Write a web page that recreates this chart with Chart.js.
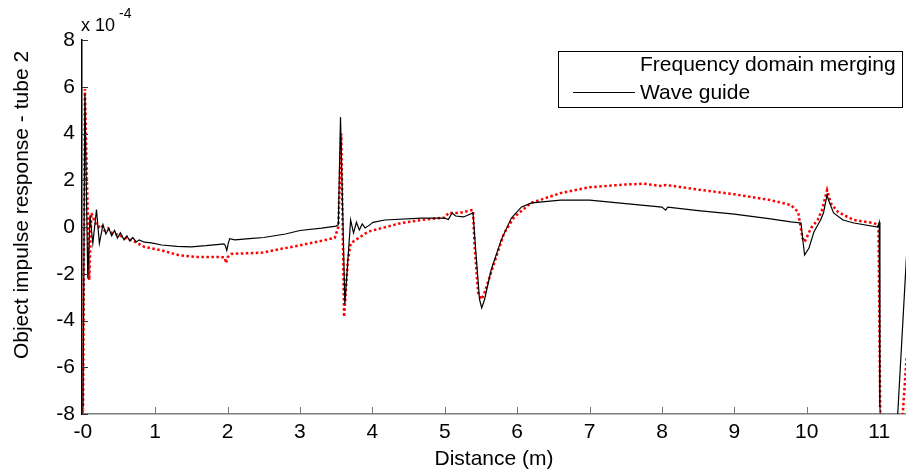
<!DOCTYPE html>
<html>
<head>
<meta charset="utf-8">
<script src="https://cdn.jsdelivr.net/npm/chart.js@4.4.0/dist/chart.umd.min.js"></script>
<style>
  body { margin: 0; background: #fff; }
  canvas { display: block; }
</style>
</head>
<body>
<canvas id="impulseChart" width="906" height="473"></canvas>
<script>
// data (values in units of 1e-4)
const waveX = [0.00, 0.03, 0.07, 0.10, 0.14, 0.19, 0.23, 0.28, 0.32, 0.36, 0.40, 0.44, 0.48, 0.52, 0.57, 0.61, 0.65, 0.69, 0.74, 0.78, 0.85, 0.95, 1.09, 1.30, 1.50, 1.70, 1.85, 1.95, 1.97, 1.99, 2.01, 2.03, 2.10, 2.30, 2.50, 2.80, 3.00, 3.30, 3.50, 3.53, 3.56, 3.62, 3.70, 3.74, 3.78, 3.82, 3.86, 3.90, 3.96, 4.01, 4.17, 4.68, 5.00, 5.05, 5.10, 5.15, 5.26, 5.39, 5.43, 5.48, 5.51, 5.55, 5.64, 5.78, 5.92, 6.06, 6.20, 6.60, 7.00, 7.50, 8.00, 8.05, 8.08, 8.50, 9.00, 9.50, 9.78, 9.92, 9.94, 9.97, 10.03, 10.10, 10.19, 10.23, 10.28, 10.30, 10.37, 10.50, 10.65, 10.98, 11.00, 11.01, 11.22, 11.38, 11.45];
const waveY = [-10, 5.7, -2.2, 0.5, -0.7, 0.75, -0.7, 0.1, -0.3, -0.05, -0.38, -0.15, -0.47, -0.25, -0.55, -0.38, -0.6, -0.45, -0.64, -0.55, -0.65, -0.68, -0.77, -0.83, -0.85, -0.8, -0.75, -0.72, -0.8, -1.0, -0.7, -0.5, -0.55, -0.5, -0.45, -0.3, -0.15, -0.05, 0.04, 0.1, 4.7, -3.3, 0.3, -0.26, 0.2, -0.13, 0.13, -0.04, 0.08, 0.2, 0.3, 0.38, 0.38, 0.32, 0.6, 0.47, 0.43, 0.6, -1.1, -3.1, -3.46, -3.1, -1.84, -0.55, 0.38, 0.86, 1.03, 1.15, 1.15, 1.0, 0.85, 0.72, 0.85, 0.7, 0.55, 0.35, 0.22, 0.17, -0.43, -1.2, -0.9, -0.2, 0.3, 0.6, 1.37, 1.15, 0.6, 0.3, 0.17, 0.0, 0.2, -10, -10, -1.07, 3];

const freqX = [0.00, 0.03, 0.09, 0.12, 0.17, 0.22, 0.26, 0.30, 0.35, 0.40, 0.50, 0.61, 0.70, 0.85, 1.09, 1.32, 1.55, 1.87, 1.96, 1.98, 2.00, 2.05, 2.47, 3.02, 3.48, 3.53, 3.57, 3.61, 3.66, 3.70, 3.94, 4.40, 4.68, 5.00, 5.05, 5.20, 5.39, 5.41, 5.46, 5.51, 5.55, 5.71, 5.82, 5.96, 6.19, 6.60, 7.00, 7.50, 7.75, 8.00, 8.05, 8.50, 9.00, 9.50, 9.78, 9.88, 9.94, 9.97, 10.06, 10.15, 10.21, 10.28, 10.33, 10.43, 10.65, 10.92, 10.99, 11.02, 11.28, 11.38, 11.45];
const freqY = [-10, 5.9, -2.27, 0.6, 0.2, 0.0, 0.1, -0.15, -0.05, -0.25, -0.35, -0.5, -0.6, -0.85, -1.0, -1.2, -1.28, -1.28, -1.3, -1.55, -1.3, -1.15, -1.1, -0.77, -0.47, 0.0, 4.0, -3.85, -1.5, -0.7, -0.2, 0.17, 0.3, 0.4, 0.6, 0.6, 0.73, -0.7, -2.8, -3.1, -2.8, -1.28, -0.26, 0.43, 1.03, 1.45, 1.7, 1.82, 1.85, 1.75, 1.8, 1.6, 1.4, 1.15, 0.94, 0.64, -0.47, -0.64, -0.04, 0.3, 0.73, 1.58, 1.03, 0.64, 0.3, 0.17, 0.09, -10, -10, -5.5, -3];

const seriesNames = ["Frequency domain merging", "Wave guide"];
const xTickValues = [0, 1, 2, 3, 4, 5, 6, 7, 8, 9, 10, 11];
const xTickLabels = ["-0", "1", "2", "3", "4", "5", "6", "7", "8", "9", "10", "11"];
const yTickValues = [-8, -6, -4, -2, 0, 2, 4, 6, 8];

const FONT = "'Liberation Sans', Arial, sans-serif";

function toPoints(xs, ys) {
  return xs.map((x, i) => ({ x: x, y: ys[i] }));
}

// ticks pointing into the plot, titles and legend box (matlab look)
const matlabDecor = {
  id: "matlabDecor",
  afterDraw(chart) {
    const ctx = chart.ctx;
    const area = chart.chartArea;
    const xs = chart.scales.x;
    const ys = chart.scales.y;

    ctx.save();
    ctx.lineWidth = 1;
    ctx.strokeStyle = "#333";
    ctx.beginPath();
    yTickValues.forEach(v => {
      const py = Math.round(ys.getPixelForValue(v)) + 0.5;
      ctx.moveTo(area.left, py);
      ctx.lineTo(area.left + 6, py);
    });
    ctx.stroke();
    ctx.strokeStyle = "#777";
    ctx.beginPath();
    xTickValues.forEach(v => {
      const px = Math.round(xs.getPixelForValue(v)) + 0.5;
      ctx.moveTo(px, area.bottom);
      ctx.lineTo(px, area.bottom - 7);
    });
    ctx.stroke();

    // y title
    ctx.fillStyle = "#000";
    ctx.font = "21px " + FONT;
    ctx.textAlign = "center";
    ctx.textBaseline = "middle";
    ctx.save();
    ctx.translate(22, 205);
    ctx.rotate(-Math.PI / 2);
    ctx.fillText("Object impulse response - tube 2", 0, 0);
    ctx.restore();

    // exponent
    ctx.textAlign = "left";
    ctx.textBaseline = "alphabetic";
    ctx.font = "18px " + FONT;
    ctx.fillText("x 10", 81, 31);
    ctx.font = "14px " + FONT;
    ctx.fillText("-4", 119, 18);

    // legend
    const lx = 558, ly = 51, lw = 344, lh = 56;
    ctx.fillStyle = "#fff";
    ctx.fillRect(lx, ly, lw, lh);
    ctx.strokeStyle = "#000";
    ctx.strokeRect(lx + 0.5, ly + 0.5, lw, lh);
    ctx.fillStyle = "#000";
    ctx.font = "21px " + FONT;
    ctx.textBaseline = "middle";
    ctx.fillText(seriesNames[0], 640, 65);
    ctx.fillText(seriesNames[1], 640, 93);
    ctx.beginPath();
    ctx.moveTo(573, 92.5);
    ctx.lineTo(635, 92.5);
    ctx.stroke();
    ctx.restore();
  }
};

const chart = new Chart(document.getElementById("impulseChart").getContext("2d"), {
  type: "scatter",
  data: {
    datasets: [
      {
        label: seriesNames[0],
        data: toPoints(freqX, freqY),
        showLine: true,
        borderColor: "#ff0000",
        borderWidth: 2.5,
        borderDash: [2.5, 2.5],
        pointRadius: 0,
        tension: 0,
        order: 1
      },
      {
        label: seriesNames[1],
        data: toPoints(waveX, waveY),
        showLine: true,
        borderColor: "#000000",
        borderWidth: 1.2,
        pointRadius: 0,
        tension: 0,
        order: 0
      }
    ]
  },
  options: {
    responsive: false,
    animation: false,
    layout: { padding: { top: 40, right: 0, bottom: 0, left: 0 } },
    plugins: {
      legend: { display: false },
      tooltip: { enabled: false }
    },
    scales: {
      x: {
        type: "linear",
        min: -0.01,
        max: 11.37,
        afterFit: s => { s.height = 59; s.paddingLeft = 0; s.paddingRight = 0; },
        afterBuildTicks: s => { s.ticks = xTickValues.map(v => ({ value: v })); },
        ticks: {
          color: "#000",
          font: { family: FONT, size: 21 },
          padding: 6,
          maxRotation: 0,
          callback: (v) => xTickLabels[xTickValues.indexOf(v)]
        },
        grid: { drawOnChartArea: false, drawTicks: false },
        border: { display: true, color: "#808080", width: 1.5 },
        title: {
          display: true,
          text: "Distance (m)",
          color: "#000",
          font: { family: FONT, size: 21 },
          padding: { top: 0, bottom: 1 }
        }
      },
      y: {
        type: "linear",
        min: -8,
        max: 8,
        afterFit: s => { s.width = 82; },
        afterBuildTicks: s => { s.ticks = yTickValues.map(v => ({ value: v })); },
        ticks: {
          color: "#000",
          font: { family: FONT, size: 21 },
          padding: 7
        },
        grid: { drawOnChartArea: false, drawTicks: false },
        border: { display: true, color: "#000", width: 1.5 }
      }
    }
  },
  plugins: [matlabDecor]
});
</script>
</body>
</html>
